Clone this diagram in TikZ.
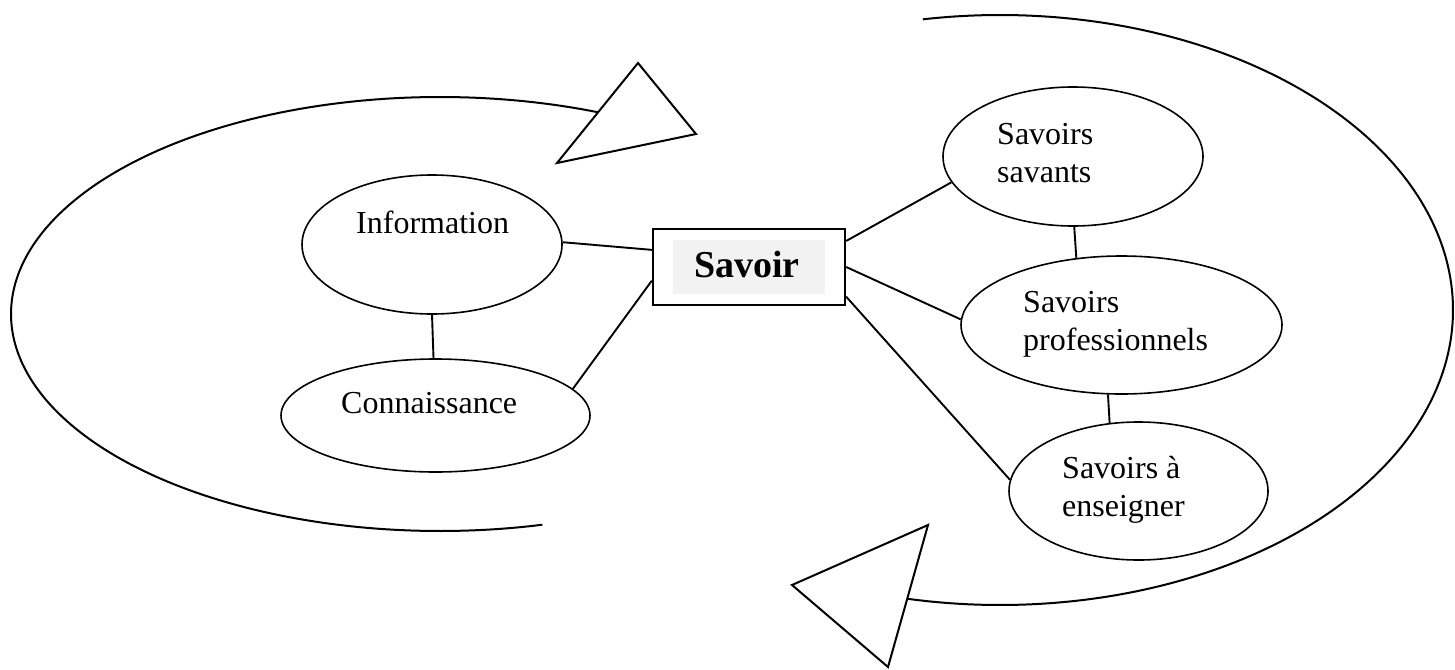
\documentclass[tikz,border=0pt]{standalone}
\usepackage{fontspec}
\setmainfont{Liberation Serif}
\usetikzlibrary{shapes.geometric}
\begin{document}
\begin{tikzpicture}[x=1pt,y=-1pt,
  oval/.style={draw, ellipse, line width=1.6pt, inner sep=0pt},
  lbl/.style={anchor=base west, inner sep=0pt, font=\fontsize{32}{38}\selectfont},
  link/.style={line width=1.9pt},
  loopline/.style={line width=2pt},
  tri/.style={line width=2pt, line join=miter, fill=white}]
\useasboundingbox (0,0) rectangle (1455,669);

% big circling arcs
\draw[loopline] plot[domain=67:283.8, samples=160, smooth] ({440+429*cos(\x)},{314-217*sin(\x)});
\draw[loopline] plot[domain=-103:99.8, samples=160, smooth] ({1000+453*cos(\x)},{310-295*sin(\x)});

% arrow triangles
\coordinate (t1a) at (638,63);
\coordinate (t1b) at (696,134);
\coordinate (t1c) at (557,163);
\draw[tri] (t1a) -- (t1b) -- (t1c) -- cycle;
\coordinate (t2a) at (928,525);
\coordinate (t2b) at (792,585);
\coordinate (t2c) at (888,667);
\draw[tri] (t2a) -- (t2b) -- (t2c) -- cycle;

% ellipses
\node[oval, minimum width=260pt, minimum height=139pt] (info) at (432,244.5) {};
\node[oval, minimum width=309pt, minimum height=113pt] (conn) at (435.5,415.5) {};
\node[oval, minimum width=260pt, minimum height=139pt] (sav) at (1073,156.5) {};
\node[oval, minimum width=321pt, minimum height=138pt] (prof) at (1121.5,325) {};
\node[oval, minimum width=259pt, minimum height=138pt] (ens) at (1138.5,491) {};

% labels
\node[lbl] (tinfo) at (356,233) {Information};
\node[lbl] (tconn) at (341,413) {Connaissance};
\node[lbl] (tsav) at (997,144) {\begin{tabular}[t]{@{}l@{}}Savoirs\\savants\end{tabular}};
\node[lbl] (tprof) at (1023,312) {\begin{tabular}[t]{@{}l@{}}Savoirs\\professionnels\end{tabular}};
\node[lbl] (tens) at (1062,478) {\begin{tabular}[t]{@{}l@{}}Savoirs à\\enseigner\end{tabular}};

% central box
\node[draw, line width=2.4pt, minimum width=192pt, minimum height=76pt, inner sep=0pt] (box) at (749,267) {};
\node[fill=black!5, minimum width=152pt, minimum height=54pt, inner sep=0pt] (shade) at (749,267) {};
\node[anchor=base, inner sep=0pt, font=\bfseries\fontsize{38}{44}\selectfont] (savoir) at (747,277) {Savoir};

% connectors
\draw[link] (info.1) -- (box.170);
\draw[link] (conn.11) -- (box.188);
\draw[link] (info.270) -- (conn.92);
\draw[link] (box.15) -- (sav.192);
\draw[link] (box.0) -- (prof.178);
\draw[link] (box.343) -- (ens.175);
\draw[link] (sav.271) -- (prof.124);
\draw[link] (prof.259) -- (ens.113);
\end{tikzpicture}
\end{document}
